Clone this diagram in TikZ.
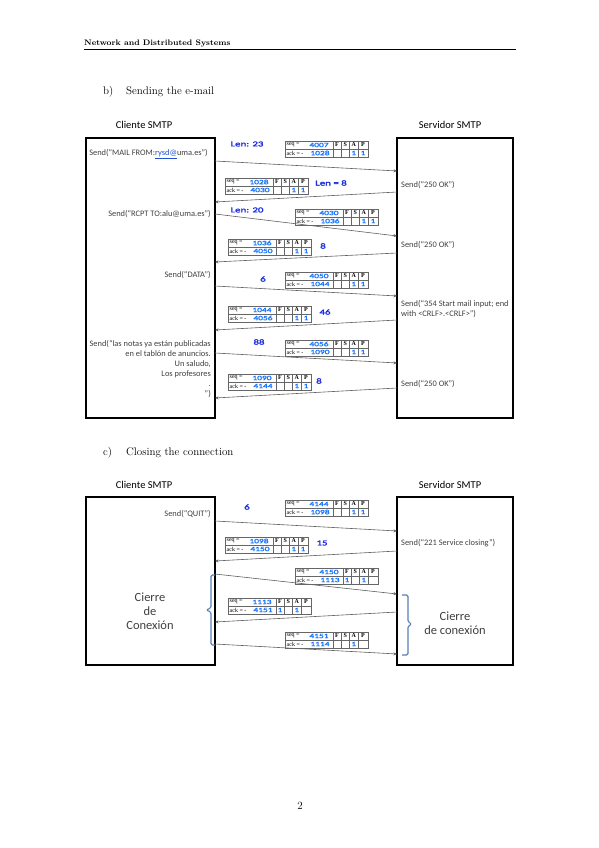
\documentclass[tikz,border=0pt]{standalone}
\usepackage{fontspec}
\usetikzlibrary{arrows.meta}
\newfontfamily\calibri{Carlito}
\newfontfamily\penfont{Carlito}[FakeStretch=1.45, FakeBold=2.5]
\newfontfamily\timesf{Liberation Serif}
\definecolor{txtgray}{HTML}{404040}
\definecolor{arrgray}{HTML}{606060}
\definecolor{penblue}{HTML}{1E2FE0}
\definecolor{valblue}{HTML}{1A78FF}
\definecolor{linkblue}{HTML}{2050D0}
\definecolor{bracecol}{HTML}{5B7FB8}
\tikzset{
  segline/.style={draw=gray!80!black, line width=0.4pt},
  segtxt/.style={font=\timesf\fontsize{6}{6}\selectfont, inner sep=0},
  segflag/.style={font=\timesf\bfseries\fontsize{6}{6}\selectfont, inner sep=0},
  segval/.style={font=\penfont\fontsize{6.5}{7}\selectfont, text=valblue, inner sep=0}
}
\newcommand{\segbox}[9]{%
  \begin{scope}[shift={(#2,#3)}]
    \draw[segline] (0,0) rectangle (83,16);
    \draw[segline] (0,8) -- (83,8);
    \draw[segline] (48,0) -- (48,16) (56,0) -- (56,16) (64.5,0) -- (64.5,16) (73,0) -- (73,16);
    \node[segtxt, anchor=west] (#1seq) at (1.5,4) {seq =};
    \node[segval] (#1sv) at (34,4) {#4};
    \node[segtxt, anchor=west] (#1ack) at (1.5,12) {ack = -};
    \node[segval] (#1av) at (35,12) {#5};
    \node[segflag] (#1f) at (52,4) {F};
    \node[segflag] (#1s) at (60.25,4) {S};
    \node[segflag] (#1a) at (68.75,4) {A};
    \node[segflag] (#1p) at (78,4) {P};
    \node[segval] (#1fv) at (52,12) {#6};
    \node[segval] (#1sfv) at (60.25,12) {#7};
    \node[segval] (#1av2) at (68.75,12) {#8};
    \node[segval] (#1pv) at (78,12) {#9};
  \end{scope}}

\begin{document}
\begin{tikzpicture}[x=1pt, y=-1pt,
  sendtxt/.style={font=\calibri\fontsize{8.4}{10}\selectfont, text=txtgray, inner sep=0},
  host/.style={font=\calibri\fontsize{10.5}{12}\selectfont, inner sep=0},
  lenlbl/.style={font=\penfont\fontsize{7.5}{9}\selectfont, text=penblue, inner sep=0},
  cierre/.style={font=\calibri\fontsize{12.5}{14}\selectfont, align=center, text=txtgray, inner sep=0},
  msg/.style={-{Stealth[length=3.5pt, width=3pt]}, draw=arrgray, line width=0.6pt},
  hostbox/.style={line width=1.2pt},
  brc/.style={draw=bracecol, line width=1.1pt, rounded corners=1.5pt}]

\useasboundingbox[fill=white] (0,0) rectangle (599,848);

\node[anchor=base west, inner sep=0, font=\bfseries\fontsize{8}{9}\selectfont] (runhead) at (84,46) {Network and Distributed Systems};
\draw[line width=0.6pt] (84,49.5) -- (516,49.5);

\node[anchor=base west, inner sep=0, font=\fontsize{11}{13}\selectfont] (secb) at (103,95) {b)};
\node[anchor=base west, inner sep=0, font=\fontsize{11}{13}\selectfont] (secbtitle) at (126,95) {Sending the e-mail};

\node[host] (cli1) at (144,125) {Cliente SMTP};
\node[host] (srv1) at (450,125) {Servidor SMTP};
\draw[hostbox] (86,138) rectangle (215,418);
\draw[hostbox] (397,138) rectangle (513,418);

\coordinate (c1) at (215,161); \coordinate (s1) at (397,171);
\coordinate (s2) at (397,192); \coordinate (c2) at (215,202);
\coordinate (c3) at (215,214); \coordinate (s3) at (397,236);
\coordinate (s4) at (397,253); \coordinate (c4) at (215,262);
\coordinate (c5) at (215,286); \coordinate (s5) at (397,296);
\coordinate (s6) at (397,320); \coordinate (c6) at (215,330);
\coordinate (c7) at (215,353); \coordinate (s7) at (397,363);
\coordinate (s8) at (397,388); \coordinate (c8) at (215,398);

\begin{scope}[msg]
\draw (c1) -- (s1);
\draw (s2) -- (c2);
\draw (c3) -- (s3);
\draw (s4) -- (c4);
\draw (c5) -- (s5);
\draw (s6) -- (c6);
\draw (c7) -- (s7);
\draw (s8) -- (c8);
\end{scope}

\node[sendtxt, anchor=east] (mailfrom) at (208,154) {Send(“MAIL FROM:\textcolor{linkblue}{\underline{rysd@}}uma.es”)};
\node[sendtxt, anchor=east] (rcpt) at (211,214) {Send(“RCPT TO:alu@uma.es”)};
\node[sendtxt, anchor=east] (data) at (211,275) {Send(“DATA”)};
\node[sendtxt, anchor=north east, align=right] (body) at (211,340) {Send(“las notas ya están publicadas\\en el tablón de anuncios.\\Un saludo,\\Los profesores\\.\\”)};

\node[sendtxt, anchor=west] (ok1) at (401,185) {Send(“250 OK”)};
\node[sendtxt, anchor=west] (ok2) at (401,245) {Send(“250 OK”)};
\node[sendtxt, anchor=north west, align=left] (start) at (401,300) {Send(“354 Start mail input; end\\with <CRLF>.<CRLF>”)};
\node[sendtxt, anchor=west] (ok3) at (401,384) {Send(“250 OK”)};

\segbox{ta}{285}{141}{4007}{1028}{}{}{1}{1}
\segbox{tb}{225}{178}{1028}{4030}{}{}{1}{1}
\segbox{tc}{295}{209}{4030}{1036}{}{}{1}{1}
\segbox{td}{228}{239}{1036}{4050}{}{}{1}{1}
\segbox{te}{285}{272}{4050}{1044}{}{}{1}{1}
\segbox{tf}{228}{306}{1044}{4056}{}{}{1}{1}
\segbox{tg}{285}{340}{4056}{1090}{}{}{1}{1}
\segbox{th}{228}{374}{1090}{4144}{}{}{1}{1}

\node[lenlbl] (len1) at (247,144) {Len: 23};
\node[lenlbl] (len2) at (331,183) {Len = 8};
\node[lenlbl] (len3) at (247,210) {Len: 20};
\node[lenlbl] (len4) at (323,246) {8};
\node[lenlbl] (len5) at (263,279) {6};
\node[lenlbl] (len6) at (325,312) {46};
\node[lenlbl] (len7) at (259,342) {88};
\node[lenlbl] (len8) at (319,381) {8};

\node[anchor=base west, inner sep=0, font=\fontsize{11}{13}\selectfont] (secc) at (103,455) {c)};
\node[anchor=base west, inner sep=0, font=\fontsize{11}{13}\selectfont] (secctitle) at (126,455) {Closing the connection};

\node[host] (cli2) at (144,485) {Cliente SMTP};
\node[host] (srv2) at (450,485) {Servidor SMTP};
\draw[hostbox] (86,497) rectangle (215,665);
\draw[hostbox] (397,497) rectangle (513,665);

\coordinate (q1) at (215,521); \coordinate (r1) at (397,531);
\coordinate (r2) at (397,551); \coordinate (q2) at (215,561);
\coordinate (q3) at (215,574); \coordinate (r3) at (397,594);
\coordinate (r4) at (397,612); \coordinate (q4) at (215,622);
\coordinate (q5) at (215,644); \coordinate (r5) at (397,654);

\begin{scope}[msg]
\draw (q1) -- (r1);
\draw (r2) -- (q2);
\draw (q3) -- (r3);
\draw (r4) -- (q4);
\draw (q5) -- (r5);
\end{scope}

\node[sendtxt, anchor=east] (quit) at (211,514) {Send(“QUIT”)};
\node[sendtxt, anchor=west] (closing) at (401,543) {Send(“221 Service closing”)};

\segbox{ua}{285}{500}{4144}{1098}{}{}{1}{1}
\segbox{ub}{225}{537}{1098}{4150}{}{}{1}{1}
\segbox{uc}{295}{568}{4150}{1113}{1}{}{1}{}
\segbox{ud}{228}{598}{1113}{4151}{1}{}{1}{}
\segbox{ue}{285}{632}{4151}{1114}{}{}{1}{}

\node[lenlbl] (len9) at (247,507) {6};
\node[lenlbl] (len10) at (322,543) {15};

\node[cierre] (cierrecli) at (150,611) {Cierre\\de\\Conexión};
\node[cierre] (cierresrv) at (455,623) {Cierre\\de conexión};

\draw[brc] (215,575) -- (211,575) -- (211,608) -- (206,610) -- (211,612) -- (211,645) -- (215,645);
\draw[brc] (402,595) -- (408,595) -- (408,622) -- (412,624) -- (408,626) -- (408,655) -- (402,655);

\node[inner sep=0, font=\fontsize{11}{13}\selectfont] (pagenum) at (300,806) {2};

\end{tikzpicture}
\end{document}
